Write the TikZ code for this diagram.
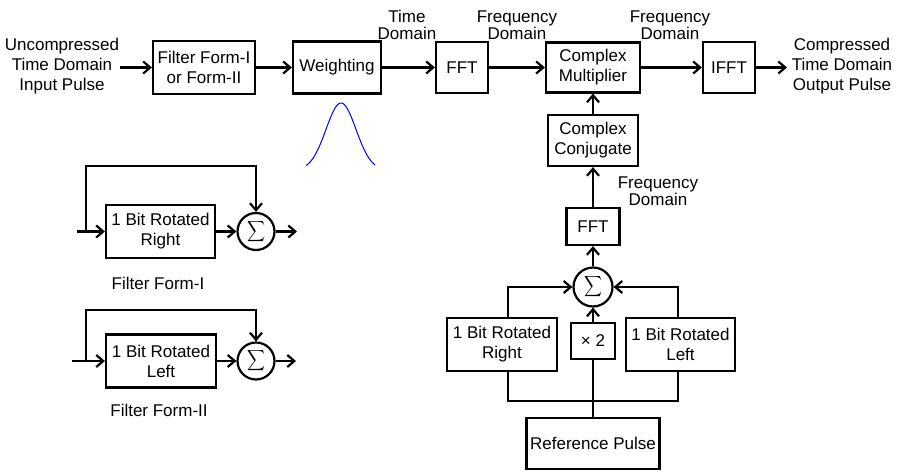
\documentclass[tikz,border=0pt]{standalone}
\usepackage{fontspec}
\setmainfont{Liberation Sans}
\usepackage{graphicx}
\usetikzlibrary{arrows.meta}
\newcommand{\sumsym}{\resizebox*{18pt}{23pt}{$\displaystyle\sum$}}
\begin{document}
\begin{tikzpicture}[x=1pt,y=-1pt, line width=2.2pt,
 box/.style={draw, rectangle, inner sep=0pt, align=center, font=\fontsize{17}{20}\selectfont},
 lab/.style={inner sep=0pt, align=center, font=\fontsize{17}{17.5}\selectfont},
 lab3/.style={inner sep=0pt, align=center, font=\fontsize{17}{20}\selectfont},
 sumc/.style={draw, circle, minimum size=38pt, inner sep=0pt},
 arr/.style={-{Straight Barb[length=7pt,width=12pt]}},
]
\useasboundingbox (0,0) rectangle (898,472);

% main row
\node[box, minimum width=102pt, minimum height=53pt] (filt) at (204,67.5) {Filter Form-I\\or Form-II};
\node[box, minimum width=88pt, minimum height=52pt] (weight) at (337,67.5) {Weighting};
\node[box, minimum width=52pt, minimum height=51pt] (fft1) at (462,67.5) {FFT};
\node[box, minimum width=94pt, minimum height=50pt] (mult) at (593,67.5) {Complex\\Multiplier};
\node[box, minimum width=52pt, minimum height=51pt] (ifft) at (729,67.5) {IFFT};

% reference branch
\node[box, minimum width=90pt, minimum height=51pt] (conj) at (593,140.5) {Complex\\Conjugate};
\node[box, minimum width=53pt, minimum height=37pt] (fft2) at (593,226.5) {FFT};
\node[sumc, minimum size=39pt] (sum) at (593,287) {\sumsym};
\node[box, minimum width=110pt, minimum height=53pt] (rr) at (502,344.5) {1 Bit Rotated\\Right};
\node[box, minimum width=44pt, minimum height=36pt] (x2) at (593,341) {× 2};
\node[box, minimum width=109pt, minimum height=53pt] (rl) at (680.5,344.5) {1 Bit Rotated\\Left};
\node[box, minimum width=133pt, minimum height=51pt] (ref) at (593,443.5) {Reference Pulse};

% labels
\node[lab3] (inp) at (62,66) {Uncompressed\\Time Domain\\Input Pulse};
\node[lab3] (outp) at (842,66) {Compressed\\Time Domain\\Output Pulse};
\node[lab] (td) at (407,25) {Time\\Domain};
\node[lab] (fd1) at (517,25) {Frequency\\Domain};
\node[lab] (fd2) at (670,25) {Frequency\\Domain};
\node[lab] (fd3) at (658,191) {Frequency\\Domain};

\coordinate (inA) at (120,67.5);
\coordinate (outA) at (787,67.5);

\draw[arr] (inA) -- (filt.west);
\draw[arr] (filt.east) -- (weight.west);
\draw[arr] (weight.east) -- (fft1.west);
\draw[arr] (fft1.east) -- (mult.west);
\draw[arr] (mult.east) -- (ifft.west);
\draw[arr] (ifft.east) -- (outA);

\draw[arr] (conj.north) -- (mult.south);
\draw[arr] (fft2.north) -- (conj.south);
\draw[arr] (sum.north) -- (fft2.south);
\draw[arr] (x2.north) -- (sum.south);
\draw[arr] ([xshift=6pt]rr.north) |- (sum.west);
\draw[arr] ([xshift=-2.5pt]rl.north) |- (sum.east);
\coordinate (bj) at (593,401);
\draw (ref.north) -- (x2.south);
\draw ([xshift=6pt]rr.south) |- (bj) -| ([xshift=-2.5pt]rl.south);

% weighting window
\draw[blue, line width=1pt, domain=306:375, samples=80] plot (\x, {170-67*exp(-((\x-341)/15)^2/2)});

% Filter Form-I
\node[box, minimum width=109pt, minimum height=53pt] (f1box) at (160.5,231.5) {1 Bit Rotated\\Right};
\node[sumc, minimum size=37pt] (f1sum) at (256,231.5) {\sumsym};
\coordinate (f1in) at (77,231.5);
\coordinate (f1br) at (86,231.5);
\coordinate (f1top) at (86,166);
\coordinate (f1out) at (297,231.5);
\draw[arr] (f1in) -- (f1box.west);
\draw[arr] (f1br) -- (f1top) -| (f1sum.north);
\draw[arr] (f1box.east) -- (f1sum.west);
\draw[arr] (f1sum.east) -- (f1out);
\node[lab] (f1lab) at (158,283) {Filter Form-I};

% Filter Form-II
\node[box, minimum width=110pt, minimum height=53pt] (f2box) at (161,361) {1 Bit Rotated\\Left};
\node[sumc, minimum size=37pt] (f2sum) at (256,361) {\sumsym};
\coordinate (f2in) at (72,361);
\coordinate (f2br) at (86,361);
\coordinate (f2top) at (86,310);
\coordinate (f2out) at (296,361);
\draw[arr] (f2in) -- (f2box.west);
\draw[arr] (f2br) -- (f2top) -| (f2sum.north);
\draw[arr] (f2box.east) -- (f2sum.west);
\draw[arr] (f2sum.east) -- (f2out);
\node[lab] (f2lab) at (159,410) {Filter Form-II};
\end{tikzpicture}
\end{document}
